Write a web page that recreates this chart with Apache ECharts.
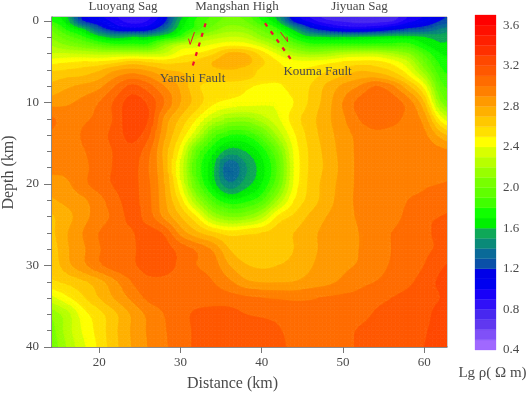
<!DOCTYPE html>
<html><head><meta charset="utf-8">
<style>html,body{margin:0;padding:0;background:#fff}#c{width:526px;height:394px}</style>
<script src="https://cdn.jsdelivr.net/npm/echarts@6/dist/echarts.min.js"></script>
</head><body><div id="c"></div>
<script>
const distanceKm = [14,16,18,20,22,24,26,28,30,32,34,36,38,40,42,44,46,48,50,52,54,56,58,60,62,64];
const depthKm = [-1,0,1,2,3,4,5,6,7,8,10,12,14,16,18,20,22,24,26,28,30,32,34,36,38,40];
const lgRho = [
[1.75,1.6,1.15,1.0,0.88,0.78,0.85,1.08,1.5,1.75,1.9,2.0,1.92,1.72,1.5,1.05,0.85,0.72,0.68,0.66,0.68,0.72,0.88,1.0,1.15,1.25],
[1.8,1.65,1.2,1.08,0.95,0.85,0.9,1.15,1.6,1.82,1.95,2.05,2.0,1.8,1.6,1.15,0.95,0.82,0.78,0.75,0.75,0.78,0.95,1.05,1.2,1.3],
[2.0,1.78,1.6,1.3,1.1,1.05,1.1,1.35,1.68,1.85,2.05,2.15,2.12,1.98,1.8,1.55,1.25,1.1,1.0,0.98,1.02,1.12,1.22,1.28,1.4,1.5],
[2.1,1.95,1.82,1.65,1.55,1.6,1.6,1.7,1.85,2.15,2.25,2.3,2.28,2.12,1.98,1.75,1.62,1.6,1.6,1.6,1.62,1.65,1.65,1.6,1.55,1.6],
[2.2,2.1,2.02,1.92,1.85,1.85,1.85,2.1,2.3,2.35,2.42,2.48,2.46,2.35,2.15,1.98,1.85,1.85,1.85,1.85,1.85,1.85,1.85,1.72,1.62,1.65],
[2.3,2.3,2.28,2.25,2.25,2.25,2.25,2.3,2.45,2.5,2.58,2.72,2.7,2.55,2.38,2.22,2.15,2.18,2.25,2.28,2.28,2.2,2.1,1.88,1.7,1.68],
[2.45,2.48,2.5,2.5,2.55,2.62,2.58,2.55,2.58,2.62,2.7,2.76,2.74,2.62,2.5,2.43,2.42,2.45,2.5,2.52,2.52,2.45,2.3,2.0,1.77,1.72],
[2.58,2.6,2.63,2.68,2.78,2.82,2.78,2.7,2.68,2.64,2.68,2.7,2.66,2.58,2.52,2.5,2.52,2.58,2.62,2.68,2.65,2.58,2.42,2.12,1.82,1.75],
[2.66,2.7,2.72,2.78,2.9,2.98,2.92,2.8,2.74,2.66,2.62,2.64,2.62,2.56,2.52,2.53,2.57,2.65,2.72,2.78,2.8,2.72,2.55,2.28,1.88,1.8],
[2.72,2.78,2.82,2.87,3.0,3.12,3.04,2.9,2.78,2.62,2.56,2.55,2.52,2.48,2.48,2.55,2.6,2.72,2.82,2.9,3.0,2.92,2.72,2.45,1.95,1.85],
[2.85,2.88,2.93,3.0,3.12,3.25,3.18,3.0,2.8,2.65,2.52,2.47,2.45,2.42,2.42,2.5,2.62,2.75,2.9,3.03,3.08,3.05,2.95,2.7,2.12,1.9],
[3.02,2.96,2.98,3.03,3.12,3.28,3.2,2.87,2.68,2.5,2.3,2.18,2.15,2.25,2.38,2.55,2.66,2.77,2.88,3.0,3.06,3.04,2.96,2.85,2.45,2.2],
[2.98,2.95,3.01,3.07,3.13,3.24,3.12,2.82,2.58,2.3,1.95,1.8,1.8,1.95,2.22,2.48,2.64,2.75,2.85,2.93,2.97,2.95,2.92,2.92,2.75,2.6],
[2.93,2.94,2.99,3.05,3.11,3.16,3.03,2.76,2.45,1.97,1.72,1.55,1.6,1.74,2.0,2.42,2.62,2.73,2.84,2.92,2.94,2.94,2.94,2.95,2.93,2.9],
[2.93,2.93,2.97,3.05,3.11,3.14,3.0,2.78,2.37,1.88,1.62,1.3,1.48,1.66,1.92,2.4,2.62,2.72,2.83,2.92,2.94,2.95,2.95,2.96,2.96,2.95],
[2.84,2.88,2.97,3.05,3.11,3.13,3.02,2.8,2.42,1.95,1.65,1.42,1.55,1.7,1.98,2.42,2.63,2.74,2.84,2.92,2.94,2.94,2.97,2.99,3.0,3.02],
[2.78,2.83,2.88,2.96,3.07,3.13,3.03,2.82,2.55,2.18,1.87,1.72,1.76,1.88,2.2,2.5,2.64,2.75,2.85,2.92,2.93,2.95,3.0,3.02,3.05,3.08],
[2.68,2.76,2.86,2.95,3.03,3.13,3.05,2.87,2.7,2.5,2.2,2.08,2.1,2.25,2.52,2.62,2.72,2.8,2.86,2.91,2.93,2.97,3.02,3.08,3.1,3.12],
[2.66,2.79,2.9,3.0,3.06,3.09,3.14,3.08,2.86,2.72,2.62,2.55,2.58,2.6,2.65,2.7,2.77,2.83,2.87,2.9,2.95,3.0,3.03,3.08,3.12,3.15],
[2.62,2.78,2.88,2.99,3.06,3.08,3.15,3.14,3.06,2.98,2.88,2.7,2.62,2.6,2.62,2.7,2.77,2.83,2.87,2.9,2.95,3.0,3.03,3.08,3.12,3.2],
[2.6,2.76,2.87,2.98,3.05,3.08,3.14,3.13,3.08,3.0,2.95,2.8,2.71,2.68,2.7,2.74,2.79,2.85,2.88,2.91,2.96,3.01,3.05,3.1,3.18,3.24],
[2.58,2.62,2.68,2.76,2.88,3.0,3.07,3.08,3.06,3.04,3.0,2.92,2.82,2.79,2.79,2.8,2.84,2.87,2.92,2.97,3.0,3.04,3.08,3.14,3.22,3.28],
[2.35,2.47,2.58,2.7,2.81,2.92,3.02,3.05,3.05,3.05,3.05,3.04,3.02,3.0,2.99,2.98,2.99,3.01,3.02,3.03,3.07,3.1,3.13,3.16,3.2,3.26],
[2.12,2.25,2.45,2.56,2.68,2.81,2.92,3.0,3.06,3.12,3.14,3.14,3.1,3.08,3.07,3.05,3.03,3.03,3.04,3.06,3.11,3.13,3.15,3.17,3.24,3.28],
[2.03,2.24,2.41,2.54,2.68,2.81,2.91,2.99,3.05,3.12,3.16,3.18,3.18,3.16,3.11,3.07,3.04,3.03,3.06,3.11,3.14,3.15,3.16,3.19,3.24,3.28],
[2.0,2.2,2.37,2.52,2.67,2.8,2.9,2.98,3.05,3.12,3.16,3.18,3.18,3.15,3.12,3.08,3.04,3.02,3.07,3.11,3.13,3.14,3.16,3.2,3.24,3.28]
];
const bandLevels = [0.4,0.5,0.6,0.7,0.8,0.9,1.0,1.1,1.2,1.3,1.4,1.5,1.6,1.7,1.8,1.9,2.0,2.1,2.2,2.3,2.4,2.5,2.6,2.7,2.8,2.9,3.0,3.1,3.2,3.3,3.4,3.5,3.6];
const bandColors = ['#a068ff','#8050f8','#6038f0','#4828f0','#3010f8','#1800f8','#0000f0','#0000e8','#0a50a8','#0a6a98','#0a8a78','#0fa858','#00f000','#10ff00','#40ff00','#60ff00','#78ff00','#98ff00','#b8ff00','#d8ff00','#ffff00','#ffe000','#ffc800','#ffb000','#ff9a00','#ff8000','#ff6c00','#ff5800','#ff4800','#ff3000','#ff2000','#ff1000','#ff0000'];
const colorbarTicks = [0.4,0.8,1.2,1.6,2.0,2.4,2.8,3.2,3.6];
const xTicks = [20,30,40,50,60];
const yMajorTicks = [0,10,20,30,40];
const yMinorTicks = [0,2,4,6,8,10,12,14,16,18,20,22,24,26,28,30,32,34,36,38,40];
const yanshiFault = [[33.1,0.28],[31.45,5.7]];
const koumaFault = [[40.4,0.25],[43.6,4.7]];
const yanshiArrow = [[31.73,1.35],[31.2,2.86],[31.0,2.16]];
const koumaArrow = [[42.3,1.35],[43.2,2.53],[43.1,1.92]];

const serif = '"Liberation Serif","Times New Roman",serif';
const ink = '#4a4a4a';
const axisGrey = '#777';
const SUB = 4;

const cells = [];
for (let r = 0; r < depthKm.length - 1; r++) {
  for (let c = 0; c < distanceKm.length - 1; c++) cells.push([distanceKm[c], depthKm[r], distanceKm[c+1], depthKm[r+1], c, r]);
}
// smooth contouring of the read table (the drawing step of a contour plot)
function hermite(f0, f1, m0, m1, h, t) {
  const t2 = t*t, t3 = t2*t;
  return (2*t3-3*t2+1)*f0 + (t3-2*t2+t)*h*m0 + (-2*t3+3*t2)*f1 + (t3-t2)*h*m1;
}
function slope(get, pos, i) {
  const n = pos.length, a = Math.max(0, i-1), b = Math.min(n-1, i+1);
  return (get(b) - get(a)) / (pos[b] - pos[a]);
}
function alongX(r, c, tx) {
  const get = function (i) { return lgRho[r][i]; };
  return hermite(get(c), get(c+1), slope(get, distanceKm, c), slope(get, distanceKm, c+1), distanceKm[c+1]-distanceKm[c], tx);
}
function surface(c, r, tx, ty) {
  const get = function (i) { return alongX(i, c, tx); };
  const v = hermite(get(r), get(r+1), slope(get, depthKm, r), slope(get, depthKm, r+1), depthKm[r+1]-depthKm[r], ty);
  return Math.max(0.4, Math.min(3.69, v));
}
function clipAbove(poly, level) {
  const out = [];
  for (let i = 0; i < poly.length; i++) {
    const a = poly[i], b = poly[(i+1) % poly.length];
    const ain = a[2] >= level, bin = b[2] >= level;
    if (ain) out.push(a);
    if (ain !== bin) {
      const t = (level - a[2]) / (b[2] - a[2]);
      out.push([a[0]+t*(b[0]-a[0]), a[1]+t*(b[1]-a[1]), level]);
    }
  }
  return out;
}
function bandIndex(v) {
  let k = 0;
  for (let i = 0; i < bandLevels.length; i++) if (v >= bandLevels[i]) k = i;
  return k;
}
function polyEl(poly, k) {
  return { type: 'polygon', silent: true,
    shape: { points: poly.map(function (p) { return [p[0], p[1]]; }) },
    style: { fill: bandColors[k], stroke: bandColors[k], lineWidth: 0.7 } };
}
function renderCell(params, api) {
  const c = api.value(4), r = api.value(5);
  const p0 = api.coord([api.value(0), api.value(1)]), p1 = api.coord([api.value(2), api.value(3)]);
  const pts = [];
  for (let j = 0; j <= SUB; j++) {
    pts.push([]);
    for (let i = 0; i <= SUB; i++) {
      const tx = i/SUB, ty = j/SUB;
      pts[j].push([p0[0]+tx*(p1[0]-p0[0]), p0[1]+ty*(p1[1]-p0[1]), surface(c, r, tx, ty)]);
    }
  }
  const children = [];
  for (let j = 0; j < SUB; j++) for (let i = 0; i < SUB; i++) {
    const A = pts[j][i], B = pts[j][i+1], D = pts[j+1][i+1], C = pts[j+1][i];
    const bands = [A,B,C,D].map(function (p) { return bandIndex(p[2]); });
    const lo0 = Math.min.apply(null, bands), hi0 = Math.max.apply(null, bands);
    if (lo0 === hi0) { children.push(polyEl([A,B,D,C], lo0)); continue; }
    [[A,B,D],[A,D,C]].forEach(function (tri) {
      const bs = tri.map(function (p) { return bandIndex(p[2]); });
      const lo = Math.min.apply(null, bs), hi = Math.max.apply(null, bs);
      for (let k = lo; k <= hi; k++) {
        const poly = k === lo ? tri : clipAbove(tri, bandLevels[k]);
        if (poly.length >= 3) children.push(polyEl(poly, k));
      }
    });
  }
  return { type: 'group', children: children };
}
function renderBand(params, api) {
  const a = api.coord([0, api.value(0)]), b = api.coord([1, api.value(0) + 0.1]);
  return { type: 'rect', shape: { x: a[0], y: b[1], width: b[0]-a[0], height: a[1]-b[1] },
    style: { fill: bandColors[params.dataIndex], stroke: bandColors[params.dataIndex], lineWidth: 0.3 } };
}
function txt(x, y, s, size, rot) {
  return { type: 'text', x: x, y: y, rotation: rot || 0, silent: true,
    style: { text: s, fill: ink, font: size + 'px ' + serif, textAlign: 'center', textVerticalAlign: 'middle' } };
}
function faultLine(data, dashed, w) {
  return { type: 'line', xAxisIndex: 0, yAxisIndex: 0, data: data, symbol: 'none', silent: true, z: 5, animation: false,
    lineStyle: { color: '#ee1030', width: w, type: dashed ? [4,6] : 'solid' } };
}
const chart = echarts.init(document.getElementById('c'), null, { renderer: 'canvas' });
chart.setOption({
  animation: false,
  backgroundColor: '#fff',
  grid: [
    { left: 52, top: 17, width: 395, height: 330, show: true, borderColor: '#999', borderWidth: 1 },
    { left: 475, top: 15, width: 21, height: 335 }
  ],
  xAxis: [
    { type: 'value', gridIndex: 0, min: 14.2, max: 62.8, position: 'bottom', splitLine: { show: false },
      axisLine: { onZero: false, lineStyle: { color: axisGrey, width: 1.5 } },
      axisTick: { length: 6, lineStyle: { color: axisGrey }, customValues: xTicks },
      axisLabel: { customValues: xTicks, margin: 9, color: ink, fontFamily: serif, fontSize: 13 } },
    { type: 'value', gridIndex: 1, min: 0, max: 1, show: false }
  ],
  yAxis: [
    { type: 'value', gridIndex: 0, inverse: true, min: -0.5, max: 40, position: 'left', splitLine: { show: false },
      axisLine: { onZero: false, lineStyle: { color: axisGrey, width: 1.5 } },
      axisTick: { length: 8, lineStyle: { color: axisGrey }, customValues: yMajorTicks },
      axisLabel: { customValues: yMajorTicks, margin: 13, color: ink, fontFamily: serif, fontSize: 13 } },
    { type: 'value', gridIndex: 0, inverse: true, min: -0.5, max: 40, position: 'left', splitLine: { show: false },
      axisLine: { show: false },
      axisTick: { length: 5, lineStyle: { color: axisGrey }, customValues: yMinorTicks },
      axisLabel: { show: false } },
    { type: 'value', gridIndex: 1, min: 0.4, max: 3.7, position: 'right', splitLine: { show: false },
      axisLine: { show: false }, axisTick: { show: false },
      axisLabel: { customValues: colorbarTicks, margin: 7, color: ink, fontFamily: serif, fontSize: 13,
        formatter: function (v) { return v.toFixed(1); } } }
  ],
  series: [
    { type: 'custom', xAxisIndex: 0, yAxisIndex: 0, data: cells, renderItem: renderCell, clip: true, silent: true,
      encode: { x: [0,2], y: [1,3] }, z: 1, animation: false, progressive: 0 },
    { type: 'custom', xAxisIndex: 1, yAxisIndex: 2, data: bandLevels.map(function (v) { return [v]; }), renderItem: renderBand,
      silent: true, encode: { y: 0 }, z: 1, animation: false },
    faultLine(yanshiFault, true, 2.2),
    faultLine(koumaFault, true, 2.2),
    faultLine(yanshiArrow, false, 1),
    faultLine(koumaArrow, false, 1)
  ],
  graphic: { elements: [
    txt(123, 6.5, 'Luoyang Sag', 13),
    txt(237, 7, 'Mangshan High', 13),
    txt(359.5, 7, 'Jiyuan Sag', 13),
    Object.assign(txt(192.5, 79, 'Yanshi Fault', 13), { z: 100 }),
    Object.assign(txt(317.5, 72, 'Kouma Fault', 13), { z: 100 }),
    txt(232.5, 384, 'Distance (km)', 16),
    txt(8.5, 172.5, 'Depth (km)', 16, Math.PI / 2),
    txt(492.5, 373, 'Lg ρ( Ω m)', 15)
  ] }
});
</script></body></html>
